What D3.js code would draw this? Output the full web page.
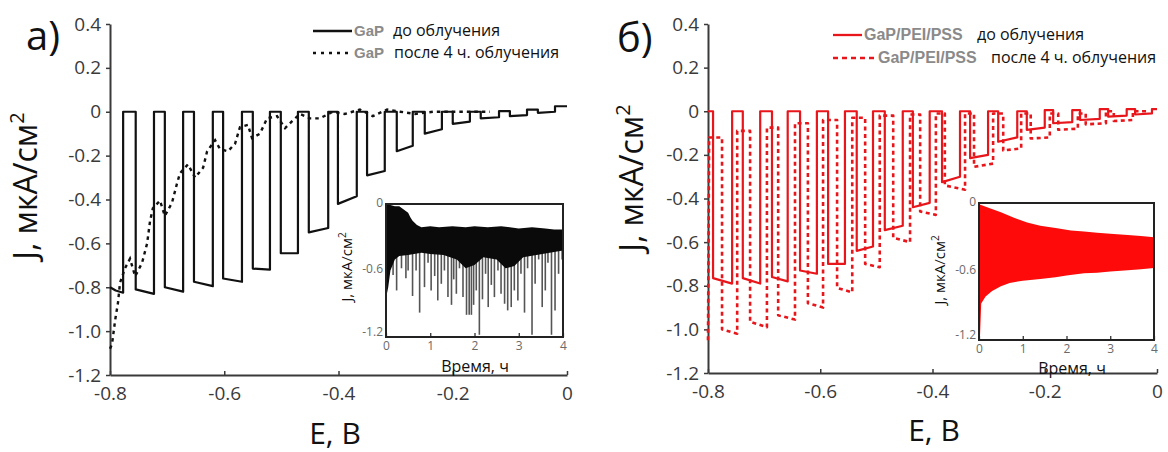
<!DOCTYPE html>
<html><head><meta charset="utf-8">
<script src="https://cdn.jsdelivr.net/npm/d3@7"></script>
<style>
body{margin:0;background:#fff}
svg{display:block}
text{font-family:"Open Sans","Noto Sans",sans-serif}
</style>
</head><body>
<svg id="c" width="1168" height="452"></svg>
<script>
// ---------------- DATA ----------------
const yTicks = [0.4, 0.2, 0, -0.2, -0.4, -0.6, -0.8, -1.0, -1.2];
const xTicks = [-0.8, -0.6, -0.4, -0.2, 0];
const insetXTicks = [0, 1, 2, 3, 4];
const insetYTicks = [0, -0.6, -1.2];

// Panel a) GaP, before irradiation (square-wave chopped light)
const aSolidLead      = [[-0.800, -0.800], [-0.790, -0.815], [-0.777, -0.825]];
const aSolidTopStart  = [-0.777, -0.723, -0.672, -0.620, -0.569, -0.520, -0.471, -0.418, -0.368, -0.319, -0.270, -0.219, -0.170, -0.119, -0.070, -0.021];
const aSolidTopEnd    = [-0.755, -0.704, -0.653, -0.602, -0.550, -0.501, -0.452, -0.401, -0.350, -0.298, -0.249, -0.200, -0.151, -0.100, -0.051, 0.000];
const aSolidTopLevel  = [0, 0, 0, 0, 0, 0, 0, 0, 0, 0, 0, 0, 0, 0.003, 0.01, 0.025];
const aSolidBotStart  = [-0.81, -0.80, -0.775, -0.76, -0.715, -0.645, -0.55, -0.42, -0.29, -0.18, -0.10, -0.055, -0.03, -0.02, -0.005];
const aSolidBotEnd    = [-0.83, -0.82, -0.795, -0.775, -0.72, -0.645, -0.53, -0.385, -0.27, -0.155, -0.08, -0.045, -0.025, -0.015, 0.0];

// Panel a) GaP, after 4 h irradiation (dotted)
const aDotE = [-0.800, -0.7965, -0.791, -0.786, -0.7825, -0.774, -0.765, -0.756, -0.744, -0.735, -0.730, -0.725, -0.7125, -0.704, -0.6915, -0.683, -0.6775, -0.6635, -0.651, -0.637, -0.630, -0.616, -0.6075, -0.5935, -0.581, -0.5725, -0.5585, -0.5515, -0.5375, -0.525, -0.5075, -0.4935, -0.480, -0.4675, -0.450, -0.4325, -0.410, -0.389, -0.3625, -0.340, -0.315, -0.292, -0.266, -0.2345, -0.205, -0.170, -0.135];
const aDotJ = [-1.08, -1.06, -0.95, -0.87, -0.78, -0.715, -0.67, -0.75, -0.69, -0.60, -0.50, -0.44, -0.405, -0.475, -0.415, -0.33, -0.28, -0.24, -0.30, -0.255, -0.18, -0.13, -0.17, -0.18, -0.145, -0.07, -0.06, -0.12, -0.10, -0.03, -0.02, -0.075, -0.04, -0.01, -0.03, -0.03, 0.0, -0.01, 0.01, -0.02, 0.01, 0.0, -0.01, 0.0, 0.0, 0.0, 0.0];

// Panel b) GaP/PEI/PSS, before irradiation (solid red)
const bSolidLead      = [];
const bSolidTopStart  = [-0.800, -0.757, -0.707, -0.658, -0.606, -0.556, -0.506, -0.453, -0.405, -0.351, -0.301, -0.249, -0.200, -0.151, -0.102, -0.054, -0.009];
const bSolidTopEnd    = [-0.791, -0.738, -0.686, -0.636, -0.586, -0.535, -0.485, -0.435, -0.383, -0.333, -0.283, -0.232, -0.185, -0.137, -0.087, -0.039, 0.000];
const bSolidTopLevel  = [0, 0, 0, 0, 0, 0, 0, 0, 0, 0, 0, 0, 0.005, 0.005, 0.01, 0.01, 0.01];
const bSolidBotStart  = [-0.765, -0.765, -0.76, -0.73, -0.70, -0.64, -0.545, -0.44, -0.325, -0.215, -0.14, -0.085, -0.055, -0.04, -0.025, -0.015];
const bSolidBotEnd    = [-0.79, -0.79, -0.78, -0.745, -0.70, -0.62, -0.525, -0.42, -0.30, -0.20, -0.12, -0.075, -0.05, -0.035, -0.02, -0.01];

// Panel b) GaP/PEI/PSS, after 4 h irradiation (dashed red)
const bDashLead      = [[-0.800, -1.05]];
const bDashTopStart  = [-0.798, -0.748, -0.695, -0.645, -0.595, -0.543, -0.494, -0.440, -0.394, -0.342, -0.292, -0.242, -0.191, -0.141, -0.091, -0.043];
const bDashTopEnd    = [-0.775, -0.725, -0.675, -0.622, -0.570, -0.520, -0.470, -0.422, -0.378, -0.326, -0.274, -0.225, -0.176, -0.127, -0.077, -0.014];
const bDashTopLevel  = [-0.12, -0.09, -0.075, -0.055, -0.04, -0.03, -0.02, -0.015, -0.01, -0.01, -0.01, -0.01, -0.01, -0.01, 0.0, 0.0];
const bDashBotStart  = [-1.00, -0.965, -0.935, -0.88, -0.81, -0.70, -0.58, -0.46, -0.34, -0.255, -0.18, -0.125, -0.085, -0.06, -0.045];
const bDashBotEnd    = [-1.02, -0.99, -0.955, -0.90, -0.83, -0.715, -0.60, -0.475, -0.36, -0.24, -0.17, -0.12, -0.08, -0.055, -0.04];

// Inset a): J vs time (h)
const aInUpperT = [0, 0.1, 0.2, 0.3, 0.4, 0.5, 0.55, 0.6, 0.7, 0.8, 1.0, 1.2, 1.5, 1.8, 2.0, 2.3, 2.6, 3.0, 3.3, 3.6, 3.8, 4.0];
const aInUpperJ = [0.0, -0.01, -0.02, -0.02, -0.05, -0.08, -0.12, -0.15, -0.19, -0.21, -0.20, -0.21, -0.20, -0.21, -0.20, -0.21, -0.20, -0.22, -0.21, -0.22, -0.23, -0.23];
const aInLowerT = [0, 0.05, 0.1, 0.2, 0.3, 0.5, 0.8, 1.0, 1.3, 1.6, 1.8, 2.0, 2.2, 2.5, 2.7, 2.9, 3.1, 3.4, 3.7, 4.0];
const aInLowerJ = [-0.85, -0.75, -0.60, -0.50, -0.47, -0.46, -0.44, -0.45, -0.46, -0.50, -0.58, -0.55, -0.48, -0.50, -0.58, -0.56, -0.48, -0.46, -0.44, -0.42];
const aSpikeT = [0.16, 0.24, 0.35, 0.45, 0.5, 0.6, 0.68, 0.76, 0.87, 0.95, 1.02, 1.1, 1.17, 1.25, 1.32, 1.4, 1.48, 1.53, 1.59, 1.66, 1.74, 1.82, 1.88, 1.93, 1.98, 2.04, 2.11, 2.18, 2.25, 2.31, 2.38, 2.45, 2.53, 2.6, 2.68, 2.75, 2.83, 2.9, 2.98, 3.05, 3.13, 3.2, 3.3, 3.37, 3.45, 3.53, 3.6, 3.66, 3.74, 3.82, 3.9, 3.98];
const aSpikeJ = [-0.64, -0.78, -0.58, -0.67, -0.60, -0.83, -0.60, -0.98, -0.75, -0.53, -0.78, -0.65, -0.87, -0.72, -0.60, -0.84, -0.91, -0.68, -0.81, -0.58, -0.84, -1.0, -1.0, -1.0, -0.91, -0.78, -1.18, -0.86, -0.63, -0.93, -0.73, -0.84, -0.60, -0.81, -0.90, -0.96, -0.93, -0.78, -0.87, -0.63, -0.98, -0.58, -1.18, -0.72, -0.50, -0.93, -0.78, -0.53, -1.18, -0.96, -0.63, -0.50];

// Inset b)
const bInUpperT = [0, 0.2, 0.5, 0.8, 1.1, 1.4, 1.75, 2.1, 2.4, 2.7, 3.0, 3.4, 3.7, 4.0];
const bInUpperJ = [-0.01, -0.04, -0.08, -0.13, -0.17, -0.20, -0.22, -0.24, -0.25, -0.26, -0.27, -0.28, -0.29, -0.30];
const bInLowerT = [0.0, 0.02, 0.05, 0.15, 0.3, 0.5, 0.7, 1.0, 1.4, 1.75, 2.0, 2.4, 2.7, 3.0, 3.4, 3.7, 4.0];
const bInLowerJ = [-1.2, -1.2, -0.88, -0.82, -0.77, -0.73, -0.70, -0.68, -0.665, -0.65, -0.635, -0.615, -0.61, -0.60, -0.59, -0.58, -0.57];

// ---------------- DRAW ----------------
const svg = d3.select("#c");
const RED = "#e8161b";
const fmt = d => d === 0 ? "0" : d3.format(".1f")(d).replace("\u2212", "-");

function squareWave(lead, ts, te, tl, bs, be) {
  const pts = lead.map(p => p.slice());
  ts.forEach((s, i) => {
    pts.push([s, tl[i]], [te[i], tl[i]]);
    if (i < bs.length) pts.push([te[i], bs[i]], [ts[i + 1], be[i]]);
  });
  return pts;
}

function mainAxes(x, y) {
  const gy = svg.append("g").attr("transform", `translate(${x.range()[0]},0)`)
    .call(d3.axisLeft(y).tickValues(yTicks).tickFormat(fmt).tickSizeInner(4).tickSizeOuter(0).tickPadding(5));
  const gx = svg.append("g").attr("transform", `translate(0,${y(-1.2)})`)
    .call(d3.axisBottom(x).tickValues(xTicks).tickFormat(fmt).tickSizeInner(-4).tickSizeOuter(0).tickPadding(12));
  [gy, gx].forEach(g => {
    g.select(".domain").attr("stroke", "#3a3a3a").attr("stroke-width", 2);
    g.selectAll(".tick line").attr("stroke", "#3a3a3a").attr("stroke-width", 1.5);
    g.selectAll(".tick text").attr("fill", "#3a3a3a").style("font-size", "19px");
  });
}

function yLabel(xPos, yPos, size) {
  const t = svg.append("text").attr("transform", `translate(${xPos},${yPos}) rotate(-90)`)
    .attr("text-anchor", "middle").style("font-size", size + "px").attr("fill", "#111");
  t.append("tspan").text("J, мкА/см");
  t.append("tspan").text("2").style("font-size", (size * 0.62) + "px").attr("dy", -size * 0.42);
}

const line = (x, y) => d3.line().x(d => x(d[0])).y(d => y(d[1]));

// ---- Panel a ----
const xa = d3.scaleLinear().domain([-0.8, 0]).range([110, 567]);
const ya = d3.scaleLinear().domain([0.4, -1.2]).range([24, 375]);
mainAxes(xa, ya);

svg.append("path").datum(squareWave(aSolidLead, aSolidTopStart, aSolidTopEnd, aSolidTopLevel, aSolidBotStart, aSolidBotEnd))
  .attr("d", line(xa, ya)).attr("fill", "none").attr("stroke", "#111").attr("stroke-width", 2.2).attr("stroke-linejoin", "round");
svg.append("path").datum(aDotE.map((e, i) => [e, aDotJ[i]]))
  .attr("d", line(xa, ya)).attr("fill", "none").attr("stroke", "#111").attr("stroke-width", 2.4).attr("stroke-dasharray", "3.5,4");

// ---- Panel b ----
const xb = d3.scaleLinear().domain([-0.8, 0]).range([708, 1157]);
const yb = d3.scaleLinear().domain([0.4, -1.2]).range([24, 373]);
mainAxes(xb, yb);

svg.append("path").datum(squareWave(bDashLead, bDashTopStart, bDashTopEnd, bDashTopLevel, bDashBotStart, bDashBotEnd))
  .attr("d", line(xb, yb)).attr("fill", "none").attr("stroke", RED).attr("stroke-width", 2.6).attr("stroke-dasharray", "4,3.5").attr("stroke-linejoin", "round");
svg.append("path").datum(squareWave(bSolidLead, bSolidTopStart, bSolidTopEnd, bSolidTopLevel, bSolidBotStart, bSolidBotEnd))
  .attr("d", line(xb, yb)).attr("fill", "none").attr("stroke", RED).attr("stroke-width", 2.2).attr("stroke-linejoin", "round");

// ---- Insets ----
function inset(x0, x1, y0, y1, drawFn, labelX, labelY, tLabelX, tLabelY) {
  const tx = d3.scaleLinear().domain([0, 4]).range([x0, x1]);
  const ty = d3.scaleLinear().domain([0, -1.2]).range([y0, y1]);
  svg.append("rect").attr("x", x0).attr("y", y0).attr("width", x1 - x0).attr("height", y1 - y0).attr("fill", "#fff");
  drawFn(tx, ty);
  svg.append("rect").attr("x", x0).attr("y", y0).attr("width", x1 - x0).attr("height", y1 - y0)
    .attr("fill", "none").attr("stroke", "#222").attr("stroke-width", 2);
  const gx = svg.append("g").attr("transform", `translate(0,${y1})`)
    .call(d3.axisBottom(tx).tickValues(insetXTicks).tickFormat(d3.format("d")).tickSizeInner(-4).tickSizeOuter(0).tickPadding(4));
  const gy = svg.append("g").attr("transform", `translate(${x0},0)`)
    .call(d3.axisLeft(ty).tickValues(insetYTicks).tickFormat(fmt).tickSizeInner(0).tickSizeOuter(0).tickPadding(3));
  [gx, gy].forEach(g => {
    g.select(".domain").remove();
    g.selectAll(".tick line").attr("stroke", "#222").attr("stroke-width", 1.2);
  });
  gx.selectAll(".tick text").attr("fill", "#6a6a6a").style("font-size", "12px");
  gy.selectAll(".tick text").attr("fill", "#6a6a6a").style("font-size", "12px")
    .attr("dy", d => d === -1.2 ? "-0.15em" : "0.2em");
  const t = svg.append("text").attr("transform", `translate(${labelX},${labelY}) rotate(-90)`)
    .attr("text-anchor", "middle").style("font-size", "15px").attr("fill", "#111");
  t.append("tspan").text("J, мкА/см");
  t.append("tspan").text("2").style("font-size", "10px").attr("dy", -6);
  svg.append("text").attr("x", tLabelX).attr("y", tLabelY).attr("text-anchor", "middle")
    .style("font-size", "16px").attr("fill", "#111").text("Время, ч");
}

inset(386, 563, 204, 337, (tx, ty) => {
  const lf = d3.line().x(d => tx(d[0])).y(d => ty(d[1]));
  svg.append("g").selectAll("line").data(aSpikeT).join("line")
    .attr("x1", d => tx(d)).attr("x2", d => tx(d))
    .attr("y1", ty(-0.3)).attr("y2", (d, i) => ty(aSpikeJ[i]))
    .attr("stroke", "#555").attr("stroke-width", 1.6);
  const poly = aInUpperT.map((t, i) => [t, aInUpperJ[i]])
    .concat(aInLowerT.map((t, i) => [t, aInLowerJ[i]]).reverse());
  svg.append("path").attr("d", lf(poly) + "Z").attr("fill", "#0a0a0a");
}, 352, 267, 475, 372);

inset(979, 1154, 203, 340, (tx, ty) => {
  const lf = d3.line().x(d => tx(d[0])).y(d => ty(d[1]));
  const poly = bInUpperT.map((t, i) => [t, bInUpperJ[i]])
    .concat(bInLowerT.map((t, i) => [t, bInLowerJ[i]]).reverse());
  svg.append("path").attr("d", lf(poly) + "Z").attr("fill", "#ff0a0a");
}, 945, 270, 1072, 374);

// ---- Legends ----
function legendRow(x1, x2, y, stroke, dash, sample, sampleX, labelText, labelX, sampleSize) {
  const l = svg.append("line").attr("x1", x1).attr("x2", x2).attr("y1", y).attr("y2", y)
    .attr("stroke", stroke).attr("stroke-width", 2.3);
  if (dash) l.attr("stroke-dasharray", dash);
  svg.append("text").attr("x", sampleX).attr("y", y + 5).style("font-family", "'Liberation Sans',Arial,sans-serif")
    .style("font-size", sampleSize + "px").style("font-weight", "bold").attr("fill", "#8a8a8a").text(sample);
  svg.append("text").attr("x", labelX).attr("y", y + 5).style("font-size", "16px").attr("fill", "#111").text(labelText);
}
legendRow(313, 352, 31, "#111", null, "GaP", 354, "до облучения", 393, 15);
legendRow(313, 349, 53, "#111", "3,5", "GaP", 354, "после 4 ч. облучения", 394, 15);
legendRow(833, 862, 35, RED, null, "GaP/PEI/PSS", 864, "до облучения", 977, 16);
legendRow(833, 875, 58, RED, "5,4", "GaP/PEI/PSS", 878, "после 4 ч. облучения", 991, 16);

// ---- Panel letters & axis titles ----
svg.append("text").attr("x", 26).attr("y", 50).style("font-size", "40px").attr("fill", "#111").text("а)");
svg.append("text").attr("x", 617).attr("y", 52).style("font-size", "40px").attr("fill", "#111").text("б)");
yLabel(37, 186, 32);
yLabel(643, 178, 32);
svg.append("text").attr("x", 335).attr("y", 444).attr("text-anchor", "middle").style("font-size", "30px").attr("fill", "#111").text("E, B");
svg.append("text").attr("x", 934).attr("y", 441).attr("text-anchor", "middle").style("font-size", "30px").attr("fill", "#111").text("E, B");
</script>
</body></html>
